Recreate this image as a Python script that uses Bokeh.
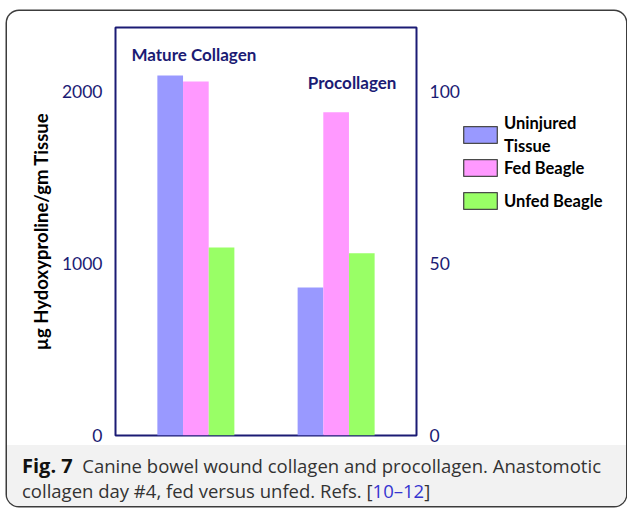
from bokeh.plotting import figure
from bokeh.models import (FactorRange, Range1d, LinearAxis, Legend, LegendItem,
                          Div, ColumnDataSource, FixedTicker)
from bokeh.layouts import column, row
from bokeh.transform import dodge
from bokeh.core.properties import value
from bokeh.embed import file_html
from bokeh.resources import INLINE

# ---- data ----
groups = ["Mature Collagen", "Procollagen"]
series = ["Uninjured\nTissue", "Fed Beagle", "Unfed Beagle"]
mature = [2093, 2058, 1093]        # left axis (µg Hydoxyproline/gm Tissue)
procollagen = [43, 94, 53]         # right axis
left_ticks = [0, 1000, 2000]
right_ticks = [0, 50, 100]
colors = ["#9999ff", "#ff99ff", "#99ff66"]

NAVY = "#1b1b74"
FONT = "Lato"
NAN = float("nan")

p = figure(width=455, height=434, output_backend="svg", toolbar_location=None,
           x_range=FactorRange(*groups, range_padding=0.073, range_padding_units="absolute"),
           y_range=Range1d(0, 2372), x_axis_location=None,
           min_border_left=108, min_border_right=38, min_border_top=16, min_border_bottom=10)
p.extra_y_ranges = {"right": Range1d(0, 118.6)}
p.grid.visible = False
p.outline_line_color = NAVY
p.outline_line_width = 2
p.outline_line_alpha = 1
p.background_fill_color = "white"
p.border_fill_color = None

# left axis
ya = p.yaxis[0]
ya.ticker = FixedTicker(ticks=left_ticks)
ya.major_tick_line_color = None
ya.minor_tick_line_color = None
ya.axis_line_color = None
ya.major_label_text_font = FONT
ya.major_label_text_font_size = "17.5px"
ya.major_label_text_color = NAVY
ya.major_label_standoff = 7
ya.axis_label = "µg Hydoxyproline/gm Tissue"
ya.axis_label_text_font = FONT
ya.axis_label_text_font_size = "18.5px"
ya.axis_label_text_font_style = "bold"
ya.axis_label_text_color = "black"
ya.axis_label_standoff = 7

# right axis
ra = LinearAxis(y_range_name="right", ticker=FixedTicker(ticks=right_ticks))
ra.major_tick_line_color = None
ra.minor_tick_line_color = None
ra.axis_line_color = None
ra.major_label_text_font = FONT
ra.major_label_text_font_size = "17.5px"
ra.major_label_text_color = NAVY
ra.major_label_standoff = 7
p.add_layout(ra, "right")

# bars
bw = 0.183
offsets = [-bw, 0.0, bw]
src_m = ColumnDataSource(dict(g=[groups[0]], v0=[mature[0]], v1=[mature[1]], v2=[mature[2]]))
src_p = ColumnDataSource(dict(g=[groups[1]], v0=[procollagen[0]], v1=[procollagen[1]], v2=[procollagen[2]]))
for i in range(3):
    p.vbar(x=dodge("g", offsets[i], range=p.x_range), top=f"v{i}", width=bw,
           source=src_m, fill_color=colors[i], line_color=None)
    p.vbar(x=dodge("g", offsets[i], range=p.x_range), top=f"v{i}", width=bw,
           source=src_p, fill_color=colors[i], line_color=None, y_range_name="right")

# group labels
p.text(x=[groups[0]], y=[2215], text=[groups[0]], x_offset=-2,
       text_align="center", text_baseline="middle", text_color=NAVY,
       text_font=value(FONT), text_font_size="17px", text_font_style="bold")
p.text(x=[groups[1]], y=[102.5], text=[groups[1]], x_offset=16, y_range_name="right",
       text_align="center", text_baseline="middle", text_color=NAVY,
       text_font=value(FONT), text_font_size="17px", text_font_style="bold")

# ---- legend panel (separate canvas to the right) ----
lf = figure(width=164, height=434, output_backend="svg", toolbar_location=None,
            x_range=Range1d(0, 1), y_range=Range1d(0, 1),
            x_axis_location=None, y_axis_location=None,
            min_border_left=0, min_border_right=0, min_border_top=0, min_border_bottom=0)
lf.grid.visible = False
lf.outline_line_color = None
lf.background_fill_color = None
lf.border_fill_color = None

# legend proxies (NaN data: nothing is drawn, only their legend swatches)
swatches = [lf.vbar(x=[NAN], top=[NAN], bottom=[NAN], width=0.1, fill_color=c,
                    line_color="#4a4a4a", line_width=1.3)
            for c in colors]
ghosts = [lf.vbar(x=[NAN], top=[NAN], bottom=[NAN], width=0.1, fill_alpha=0, line_alpha=0)
          for _ in range(2)]

common = dict(padding=0, margin=0, glyph_width=42, glyph_height=21, label_height=21,
              label_standoff=3, border_line_color=None, background_fill_alpha=0,
              label_text_font=FONT, label_text_font_size="16.5px",
              label_text_font_style="bold", label_text_color="black")

first_lines = series[0].split("\n")
legB = Legend(items=[LegendItem(label=" ", renderers=[swatches[0]]),
                     LegendItem(label=series[1], renderers=[swatches[1]]),
                     LegendItem(label=series[2], renderers=[swatches[2]])],
              location=(-3, 224), spacing=12, **common)
legA = Legend(items=[LegendItem(label=first_lines[0], renderers=[ghosts[0]]),
                     LegendItem(label=first_lines[1], renderers=[ghosts[1]])],
              location=(-3, 279), spacing=2, **common)
lf.add_layout(legB, "center")
lf.add_layout(legA, "center")

caption = Div(
    text=("<span style='font-weight:bold;color:#111;font-size:20px'>Fig. 7</span>&nbsp; "
          "Canine bowel wound collagen and procollagen. Anastomotic<br>"
          "collagen day #4, fed versus unfed. Refs. [<span style='color:#3535d0'>10–12</span>]"),
    width=619, height=61,
    styles={"background-color": "#f2f2f2", "font-family": "Open Sans", "font-size": "18.5px",
            "line-height": "25px", "color": "#333", "padding": "8px 0 0 15px",
            "box-sizing": "border-box", "margin": "0"})

root = column(row(p, lf, width=619, height=434), caption, width=619, height=495,
              styles={"box-shadow": "0 0 0 1.5px #3c3c3c", "border-radius": "12px",
                      "overflow": "hidden", "margin-top": "11px", "margin-left": "7px",
                      "background-color": "white"})

open("out.html", "w").write(file_html(root, INLINE))
